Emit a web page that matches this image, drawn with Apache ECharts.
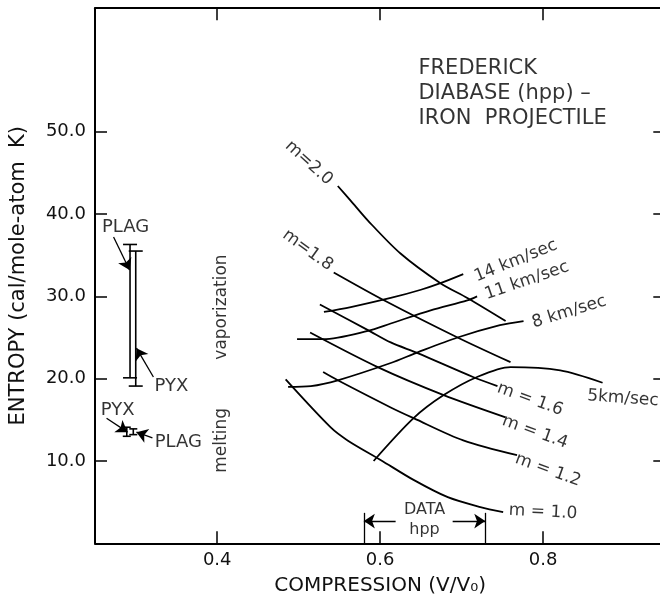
<!DOCTYPE html>
<html>
<head>
<meta charset="utf-8">
<script src="https://cdn.jsdelivr.net/npm/echarts@6/dist/echarts.min.js"></script>
<style>
html,body{margin:0;padding:0;overflow:hidden;background:#fff;}
#chart{width:680px;height:605px;}
</style>
</head>
<body>
<div id="chart"></div>
<script>
// ---------- data ----------
const xTicks = [0.4, 0.6, 0.8];
const yTicks = [10, 20, 30, 40, 50];

// constant-m curves [compression, entropy]
const m20 = [[0.548,43.4],[0.564,41.6],[0.585,39.2],[0.625,35.2],[0.674,31.6],[0.707,29.8],[0.754,27.0]];
const m18 = [[0.543,32.9],[0.607,29.4],[0.695,25.0],[0.760,22.0]];
const m16 = [[0.526,29.0],[0.585,25.9],[0.613,24.4],[0.646,23.1],[0.714,20.2],[0.744,19.1]];
const m14 = [[0.514,25.6],[0.597,21.4],[0.678,18.0],[0.754,15.3]];
const m12 = [[0.530,20.8],[0.548,19.8],[0.613,16.5],[0.641,15.2],[0.702,12.5],[0.768,10.7]];
const m10 = [[0.484,19.9],[0.539,14.1],[0.560,12.5],[0.601,10.1],[0.641,7.7],[0.683,5.6],[0.723,4.4],[0.751,3.8]];

// constant impact velocity curves
const v14 = [[0.531,28.1],[0.564,28.7],[0.613,29.8],[0.650,30.8],[0.674,31.6],[0.702,32.7]];
const v11 = [[0.498,24.8],[0.530,24.8],[0.585,25.8],[0.613,26.7],[0.662,28.3],[0.707,29.5],[0.719,30.0]];
const v8  = [[0.487,19.0],[0.515,19.1],[0.548,19.8],[0.613,21.9],[0.646,23.2],[0.695,25.0],[0.747,26.5],[0.776,27.0]];
const v5  = [[0.592,10.0],[0.641,15.2],[0.678,18.0],[0.719,20.2],[0.760,21.4],[0.821,21.0],[0.873,19.5]];

// error bars [x, low, high]
const vapBars  = [[0.293,20.1,36.3],[0.300,19.1,35.5]];
const meltBars = [[0.289,13.0,14.1],[0.297,13.2,13.9]];

// DATA (hpp) range
const dataRange = [0.580, 0.729];

// ---------- chart ----------
const FONT = 'DejaVu Sans';
const INK = '#000';

function curve(name, d) {
  return {
    name, type: 'line', data: d, smooth: 0.3, showSymbol: false, symbol: 'none',
    lineStyle: { color: '#000', width: 1.8 }, silent: true, z: 3
  };
}

function txt(text, pos, rot, size, align) {
  return {
    type: 'scatter', data: [pos], symbolSize: 0, silent: true, z: 5,
    label: {
      show: true, position: [0, 0], formatter: text, rotate: rot || 0,
      align: align || 'center', verticalAlign: 'middle',
      fontFamily: FONT, fontSize: size || 17, color: INK, lineHeight: 25
    }
  };
}

function errRender(capHalf) {
  return function (params, api) {
    const x = api.value(0), lo = api.value(1), hi = api.value(2);
    const a = api.coord([x, lo]), b = api.coord([x, hi]);
    const st = { stroke: '#000', lineWidth: 1.6, fill: null };
    return {
      type: 'group',
      children: [
        { type: 'line', shape: { x1: a[0], y1: a[1], x2: b[0], y2: b[1] }, style: st },
        { type: 'line', shape: { x1: a[0] - capHalf, y1: a[1], x2: a[0] + capHalf, y2: a[1] }, style: st },
        { type: 'line', shape: { x1: b[0] - capHalf, y1: b[1], x2: b[0] + capHalf, y2: b[1] }, style: st }
      ]
    };
  };
}

const arrowLines = [
  [[0.2728,37.2],[0.2924,33.2]],
  [[0.3217,20.2],[0.3009,23.7]],
  [[0.2642,15.2],[0.2899,13.5]],
  [[0.3205,12.8],[0.3009,13.5]],
  [[0.619,2.7],[dataRange[0],2.7]],
  [[0.689,2.7],[dataRange[1],2.7]]
];

const chart = echarts.init(document.getElementById('chart'), null, { renderer: 'canvas' });

const axisCommon = {
  type: 'value', splitLine: { show: false },
  axisLine: { onZero: false, lineStyle: { color: '#000', width: 2 } }
};

const markData = arrowLines.map(s => [
  { coord: s[0], symbol: 'none' },
  { coord: s[1], symbol: 'arrow', symbolSize: 11 }
]).concat(dataRange.map(x => [
  { coord: [x, 0], symbol: 'none' },
  { coord: [x, 3.7], symbol: 'none' }
]));

const option = {
  animation: false,
  backgroundColor: '#fff',
  grid: { left: 93, top: 8.2, width: 572.3, height: 535.1 },
  xAxis: [
    Object.assign({}, axisCommon, {
      min: 0.25, max: 0.95, position: 'bottom',
      axisTick: { inside: true, length: 12, customValues: xTicks, lineStyle: { color: '#000', width: 1.5 } },
      axisLabel: { customValues: xTicks, formatter: v => v.toFixed(1), fontFamily: FONT, fontSize: 18, color: '#111', margin: 8 },
      name: 'COMPRESSION (V/V\u2080)', nameLocation: 'middle', nameGap: 32,
      nameTextStyle: { fontFamily: FONT, fontSize: 20, color: '#111' }
    }),
    Object.assign({}, axisCommon, {
      min: 0.25, max: 0.95, position: 'top',
      axisTick: { inside: true, length: 12, customValues: xTicks, lineStyle: { color: '#000', width: 1.5 } },
      axisLabel: { show: false }
    })
  ],
  yAxis: [
    Object.assign({}, axisCommon, {
      min: 0, max: 65, position: 'left',
      axisTick: { inside: true, length: 12, customValues: yTicks, lineStyle: { color: '#000', width: 1.5 } },
      axisLabel: { customValues: yTicks, formatter: v => v.toFixed(1), fontFamily: FONT, fontSize: 18, color: '#111', margin: 9 },
      name: 'ENTROPY (cal/mole-atom  K)', nameLocation: 'middle', nameGap: 66, nameRotate: 90,
      nameTextStyle: { fontFamily: FONT, fontSize: 21, color: '#111' }
    }),
    Object.assign({}, axisCommon, {
      min: 0, max: 65, position: 'right',
      axisTick: { inside: true, length: 12, customValues: yTicks, lineStyle: { color: '#000', width: 1.5 } },
      axisLabel: { show: false }
    })
  ],
  series: [
    curve('m=2.0', m20), curve('m=1.8', m18), curve('m=1.6', m16),
    curve('m=1.4', m14), curve('m=1.2', m12),
    Object.assign(curve('m=1.0', m10), {
      markLine: {
        silent: true, precision: 4,
        itemStyle: { color: '#000' },
        lineStyle: { color: '#000', width: 1.3, type: 'solid' }, label: { show: false },
        data: markData
      }
    }),
    curve('14 km/sec', v14), curve('11 km/sec', v11), curve('8 km/sec', v8), curve('5 km/sec', v5),
    { type: 'custom', data: vapBars, renderItem: errRender(7), silent: true, z: 4 },
    { type: 'custom', data: meltBars, renderItem: errRender(4), silent: true, z: 4 },

    txt('FREDERICK\nDIABASE (hpp) \u2013\nIRON  PROJECTILE', [0.647, 54.6], 0, 21, 'left'),
    txt('m=2.0', [0.5125, 46.2], -42, 17),
    txt('m=1.8', [0.511, 35.6], -36, 17),
    txt('14 km/sec', [0.7665, 34.3], 22, 17),
    txt('11 km/sec', [0.780, 31.9], 19, 17),
    txt('8 km/sec', [0.832, 28.1], 17, 17),
    txt('5km/sec', [0.898, 17.6], -4, 17),
    txt('m = 1.6', [0.784, 17.5], -20, 17),
    txt('m = 1.4', [0.790, 13.5], -20, 17),
    txt('m = 1.2', [0.806, 8.9], -20, 17),
    txt('m = 1.0', [0.800, 3.8], -3, 17),
    txt('vaporization', [0.405, 28.7], 90, 17),
    txt('melting', [0.405, 12.5], 90, 17),
    txt('PLAG', [0.2875, 38.4], 0, 18),
    txt('PYX', [0.3437, 19.1], 0, 18),
    txt('PYX', [0.2777, 16.2], 0, 18),
    txt('PLAG', [0.3523, 12.3], 0, 18),
    txt('DATA', [0.6545, 4.05], 0, 16),
    txt('hpp', [0.6545, 1.65], 0, 16)
  ]
};
chart.setOption(option);
</script>
</body>
</html>
